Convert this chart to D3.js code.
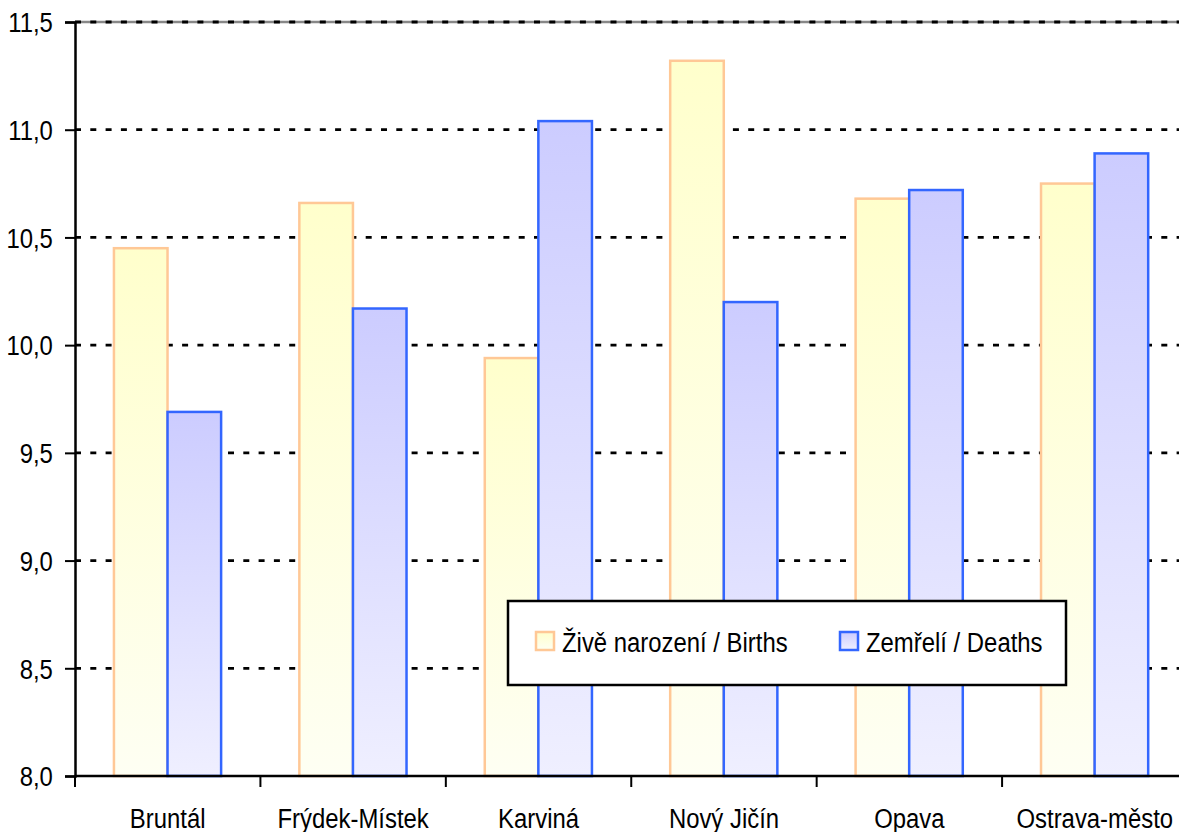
<!DOCTYPE html>
<html>
<head>
<meta charset="utf-8">
<script src="https://cdn.jsdelivr.net/npm/d3@7"></script>
<style>
  body { margin: 0; background: #fff; }
  text { font-family: "Liberation Sans", Arial, sans-serif; font-size: 27px; fill: #000; }
</style>
</head>
<body>
<div id="chart"></div>
<script>
const categories = ["Bruntál", "Frýdek-Místek", "Karviná", "Nový Jičín", "Opava", "Ostrava-město"];
const births = [10.45, 10.66, 9.94, 11.32, 10.68, 10.75];
const deaths = [9.69, 10.17, 11.04, 10.20, 10.72, 10.89];
const seriesKeys = ["births", "deaths"];
const seriesNames = ["Živě narození / Births", "Zemřelí / Deaths"];
const yTicks = [8.0, 8.5, 9.0, 9.5, 10.0, 10.5, 11.0, 11.5];

const width = 1179, height = 832;
const plot = {left: 75, right: 1187.5, top: 22, bottom: 776};
const textScale = 0.885;

const svg = d3.select("#chart").append("svg")
    .attr("width", width)
    .attr("height", height);

// gradients for the bars
const defs = svg.append("defs");
const grads = {
    births: ["#ffffcc", "#fefff3"],
    deaths: ["#ccccff", "#efefff"]
};
const strokes = {births: "#ffc896", deaths: "#3366ff"};
seriesKeys.forEach(k => {
    const g = defs.append("linearGradient")
        .attr("id", `grad-${k}`)
        .attr("x1", 0).attr("y1", 0).attr("x2", 0).attr("y2", 1);
    g.append("stop").attr("offset", "0%").attr("stop-color", grads[k][0]);
    g.append("stop").attr("offset", "100%").attr("stop-color", grads[k][1]);
});

const x = d3.scaleBand().domain(categories).range([plot.left, plot.right]);
const x1 = d3.scaleBand().domain(seriesKeys).range([x.bandwidth() * 0.21, x.bandwidth() * 0.788]);
const y = d3.scaleLinear().domain([8, 11.5]).range([plot.bottom, plot.top]);

const fmt = v => d3.format(".1f")(v).replace(".", ",");

// slightly condensed text helper
function label(g, px, py, str, anchor) {
    return g.append("text")
        .attr("transform", `translate(${px},${py}) scale(${textScale},1)`)
        .attr("text-anchor", anchor)
        .text(str);
}

// gridlines
svg.append("line")
    .attr("x1", plot.left).attr("x2", plot.right)
    .attr("y1", y(11.5)).attr("y2", y(11.5))
    .attr("stroke", "#888").attr("stroke-width", 2.5);
svg.append("g").selectAll("line")
    .data(yTicks.filter(t => t > 8))
    .enter().append("line")
    .attr("x1", plot.left).attr("x2", plot.right)
    .attr("y1", d => y(d)).attr("y2", d => y(d))
    .attr("stroke", "#000")
    .attr("stroke-width", 2.8)
    .attr("stroke-dasharray", "6,9.3");

// bars
const rows = categories.map((c, i) => ({cat: c, births: births[i], deaths: deaths[i]}));
svg.append("g").selectAll("g")
    .data(rows)
    .enter().append("g")
    .attr("transform", d => `translate(${x(d.cat)},0)`)
    .selectAll("rect")
    .data(d => seriesKeys.map(k => ({key: k, value: d[k]})))
    .enter().append("rect")
    .attr("x", d => x1(d.key))
    .attr("width", x1.bandwidth())
    .attr("y", d => y(d.value))
    .attr("height", d => y(8) - y(d.value))
    .attr("fill", d => `url(#grad-${d.key})`)
    .attr("stroke", d => strokes[d.key])
    .attr("stroke-width", 2.5);

// y axis
const yAxis = svg.append("g")
    .attr("transform", `translate(${plot.left},0)`)
    .call(d3.axisLeft(y).tickValues(yTicks).tickFormat(fmt).tickSize(10).tickPadding(15));
yAxis.select(".domain").attr("stroke", "#000").attr("stroke-width", 2.5);
yAxis.selectAll(".tick line").attr("stroke", "#000").attr("stroke-width", 2);
yAxis.selectAll(".tick text")
    .attr("dy", "0.36em")
    .attr("transform", `scale(${textScale},1)`);
yAxis.attr("font-size", null).attr("font-family", null);

// x axis
const xAxis = svg.append("g");
xAxis.append("line")
    .attr("x1", plot.left).attr("x2", plot.right)
    .attr("y1", plot.bottom).attr("y2", plot.bottom)
    .attr("stroke", "#000").attr("stroke-width", 2.5);
xAxis.selectAll(".xtick")
    .data(categories)
    .enter().append("line")
    .attr("class", "xtick")
    .attr("x1", d => x(d)).attr("x2", d => x(d))
    .attr("y1", plot.bottom).attr("y2", plot.bottom + 11)
    .attr("stroke", "#000").attr("stroke-width", 2);
categories.forEach(c => {
    label(xAxis, x(c) + x.bandwidth() / 2, 828, c, "middle");
});

// legend
const legend = svg.append("g").attr("transform", "translate(508,601)");
legend.append("rect")
    .attr("width", 558).attr("height", 84)
    .attr("fill", "#fff")
    .attr("stroke", "#000").attr("stroke-width", 2.5);
const legendX = [28, 332];
seriesKeys.forEach((k, i) => {
    legend.append("rect")
        .attr("x", legendX[i]).attr("y", 31)
        .attr("width", 18).attr("height", 18)
        .attr("fill", `url(#grad-${k})`)
        .attr("stroke", strokes[k]).attr("stroke-width", 2.5);
    label(legend, legendX[i] + 26, 51, seriesNames[i], "start");
});
</script>
</body>
</html>
